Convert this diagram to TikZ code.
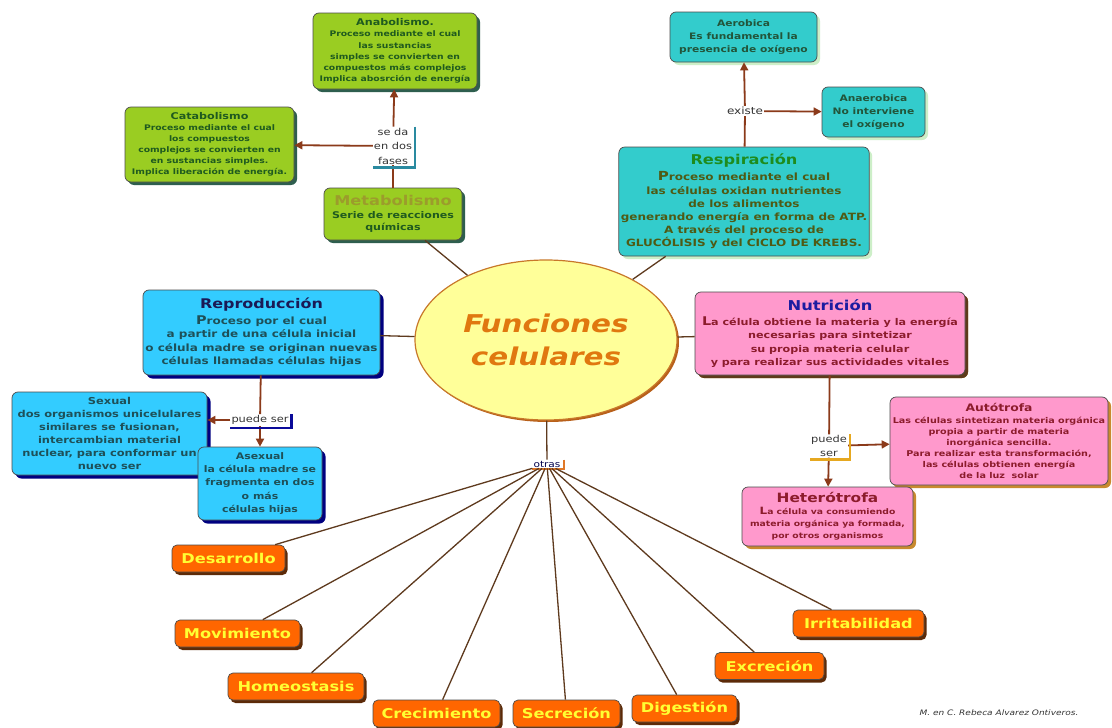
\documentclass[tikz,border=0pt]{standalone}
\usepackage{fontspec}
\setmainfont{DejaVu Sans}[FakeStretch=1.2]
\usepackage{xcolor}
\usetikzlibrary{shapes.geometric, arrows.meta, shadows}

\definecolor{limefill}{HTML}{9ACD22}
\definecolor{limeshadow}{HTML}{2E5E4E}
\definecolor{limetext}{HTML}{1F5A1F}
\definecolor{olivetitle}{HTML}{9C9C2C}
\definecolor{tealfill}{HTML}{33CCCC}
\definecolor{tealglow}{HTML}{CDEFC8}
\definecolor{tealtext}{HTML}{22553A}
\definecolor{resptitle}{HTML}{1E8C1E}
\definecolor{resptext}{HTML}{4F5A14}
\definecolor{skyfill}{HTML}{33CCFF}
\definecolor{skyshadow}{HTML}{000080}
\definecolor{skytitle}{HTML}{1A1A55}
\definecolor{skytext}{HTML}{1E5058}
\definecolor{pinkfill}{HTML}{FF99CC}
\definecolor{pinkshadow}{HTML}{5E3A1A}
\definecolor{goldshadow}{HTML}{C98A2E}
\definecolor{nutrititle}{HTML}{1C1CA0}
\definecolor{maroontext}{HTML}{8C1C2C}
\definecolor{orangefill}{HTML}{FF6600}
\definecolor{orangeshadow}{HTML}{5C2A08}
\definecolor{orangetext}{HTML}{FFFF33}
\definecolor{ellipsefill}{HTML}{FFFF99}
\definecolor{ellipseedge}{HTML}{C8782A}
\definecolor{ellipseshadow}{HTML}{B8601A}
\definecolor{ellipsetext}{HTML}{E0780F}
\definecolor{linkbrown}{HTML}{8B3A1A}
\definecolor{linebrown}{HTML}{5E3A1E}
\definecolor{bracketteal}{HTML}{2A8AA0}
\definecolor{bracketnavy}{HTML}{0A0A99}
\definecolor{bracketgold}{HTML}{E6A820}
\definecolor{bracketorange}{HTML}{E07828}

\begin{document}
\begin{tikzpicture}[x=1pt, y=-1pt,
    % Define styles for the nodes
    base_box/.style={rectangle, rounded corners=6pt, draw=black!70, line width=0.7pt, align=center, inner sep=2pt},
    lime_box/.style={base_box, fill=limefill, text=limetext, drop shadow={shadow xshift=3pt, shadow yshift=-3pt, fill=limeshadow, opacity=1}},
    teal_box/.style={base_box, fill=tealfill, text=tealtext, drop shadow={shadow xshift=3pt, shadow yshift=-3pt, fill=tealglow, opacity=1}},
    sky_box/.style={base_box, fill=skyfill, text=skytext, drop shadow={shadow xshift=3.5pt, shadow yshift=-3.5pt, fill=skyshadow, opacity=1}},
    pink_box/.style={base_box, fill=pinkfill, text=maroontext, drop shadow={shadow xshift=3pt, shadow yshift=-3pt, fill=goldshadow, opacity=1}},
    task_box/.style={base_box, rounded corners=5pt, fill=orangefill, text=orangetext, font=\bfseries\fontsize{13.5}{15}\selectfont, minimum height=27pt, drop shadow={shadow xshift=2.5pt, shadow yshift=-3pt, fill=orangeshadow, opacity=1}},
    core_node/.style={ellipse, draw=ellipseedge, line width=1.2pt, fill=ellipsefill, minimum width=262pt, minimum height=160pt, align=center, text=ellipsetext, font=\bfseries\itshape\fontsize{24.5}{33}\selectfont, drop shadow={shadow xshift=2pt, shadow yshift=-2pt, fill=ellipseshadow, opacity=1}},
    link_label/.style={fill=white, inner sep=1pt, align=center, text=black!80, font=\fontsize{9.5}{12.5}\selectfont},
    % Styles for connectors
    arrow/.style={-{Triangle[width=8pt, length=8pt]}, linkbrown, line width=1.8pt},
    plain/.style={linkbrown, line width=1.8pt},
    spoke/.style={linebrown, line width=1.3pt},
    bracket/.style={line width=2.5pt}
]
    \fill [white, use as bounding box] (0,0) rectangle (1112,728);

    % =========================================================================
    % METABOLISMO BRANCH
    % =========================================================================
    \node (anabolismo) [lime_box, minimum width=164pt, minimum height=76pt, font=\bfseries\fontsize{7.7}{11.2}\selectfont] at (395,51)
        {{\fontsize{9.3}{11}\selectfont Anabolismo.}\\Proceso mediante el cual\\las sustancias\\simples se convierten en\\compuestos más complejos\\Implica abosrción de energía};

    \node (catabolismo) [lime_box, minimum width=169pt, minimum height=75pt, font=\bfseries\fontsize{7.7}{11}\selectfont] at (209.5,144.5)
        {{\fontsize{9.3}{11}\selectfont Catabolismo}\\Proceso mediante el cual\\los compuestos\\complejos se convierten en\\en sustancias simples.\\Implica liberación de energía.};

    \node (metabolismo) [lime_box, minimum width=138pt, minimum height=52pt, font=\bfseries\fontsize{9.2}{11.7}\selectfont] at (393,214)
        {{\fontsize{13.5}{15}\selectfont\color{olivetitle}Metabolismo}\\[1pt]Serie de reacciones\\químicas};

    \node (fases) [link_label, font=\fontsize{9.5}{14.5}\selectfont] at (393,146) {se da\\en dos\\fases};
    \draw [plain] (metabolismo) -- (fases);
    \draw [arrow] (fases) -- (anabolismo);
    \draw [arrow] (fases) -- (catabolismo);
    \draw [bracket, bracketteal] ([xshift=2pt]fases.north east) |- ([yshift=-2pt]fases.south west);

    % =========================================================================
    % RESPIRACION BRANCH
    % =========================================================================
    \node (aerobica) [teal_box, minimum width=147pt, minimum height=50pt, font=\bfseries\fontsize{8.9}{13.3}\selectfont] at (743.5,37)
        {Aerobica\\Es fundamental la\\presencia de oxígeno};

    \node (anaerobica) [teal_box, minimum width=103pt, minimum height=50pt, font=\bfseries\fontsize{8.9}{13.3}\selectfont] at (873.5,112)
        {Anaerobica\\No interviene\\el oxígeno};

    \node (respiracion) [teal_box, text=resptext, minimum width=244pt, minimum height=109pt, font=\bfseries\fontsize{10}{13.2}\selectfont] at (744,201.5)
        {{\fontsize{13.5}{15}\selectfont\color{resptitle}Respiración}\\[3pt]{\fontsize{12.5}{13.2}\selectfont P}roceso mediante el cual\\las células oxidan nutrientes\\de los alimentos\\generando energía en forma de ATP.\\A través del proceso de\\GLUCÓLISIS y del CICLO DE KREBS.};

    \node (existe) [link_label, font=\fontsize{10}{12}\selectfont] at (745,111) {existe};
    \draw [plain] (respiracion) -- (existe);
    \draw [arrow] (existe) -- (aerobica);
    \draw [arrow] (existe) -- (anaerobica);

    % =========================================================================
    % REPRODUCCION BRANCH
    % =========================================================================
    \node (reproduccion) [sky_box, minimum width=237pt, minimum height=85pt, font=\bfseries\fontsize{10}{13.5}\selectfont] at (261.5,332.5)
        {{\fontsize{13.3}{15}\selectfont\color{skytitle}Reproducción}\\[2pt]{\fontsize{12}{13.5}\selectfont P}roceso por el cual\\a partir de una célula inicial\\o célula madre se originan nuevas\\células llamadas células hijas};

    \node (sexual) [sky_box, minimum width=195pt, minimum height=83pt, font=\bfseries\fontsize{9.5}{13}\selectfont] at (109.5,433.5)
        {Sexual\\dos organismos unicelulares\\similares se fusionan,\\intercambian material\\nuclear, para conformar un\\nuevo ser};

    \node (asexual) [sky_box, minimum width=124pt, minimum height=73pt, font=\bfseries\fontsize{9.1}{13.3}\selectfont] at (260,483.5)
        {Asexual\\la célula madre se\\fragmenta en dos\\o más\\células hijas};

    \node (puede_repro) [link_label] at (260,420) {puede ser};
    \draw [plain] (reproduccion) -- (puede_repro);
    \draw [arrow] (puede_repro.west) -- (puede_repro.west -| sexual.east);
    \draw [arrow] (puede_repro) -- (asexual);
    \draw [bracket, bracketnavy] ([xshift=2pt]puede_repro.north east) |- ([yshift=-2pt]puede_repro.south west);

    % =========================================================================
    % NUTRICION BRANCH
    % =========================================================================
    \node (nutricion) [pink_box, drop shadow={shadow xshift=3pt, shadow yshift=-3pt, fill=pinkshadow, opacity=1}, minimum width=270pt, minimum height=83pt, font=\bfseries\fontsize{9.3}{13.3}\selectfont] at (830,333.5)
        {{\fontsize{13.6}{15}\selectfont\color{nutrititle}Nutrición}\\[2pt]{\fontsize{12}{13.3}\selectfont L}a célula obtiene la materia y la energía\\necesarias para sintetizar\\su propia materia celular\\y para realizar sus actividades vitales};

    \node (autotrofa) [pink_box, minimum width=218pt, minimum height=88pt, font=\bfseries\fontsize{8}{11}\selectfont] at (999,441)
        {{\fontsize{10.3}{12}\selectfont Autótrofa}\\[1pt]Las células sintetizan materia orgánica\\propia a partir de materia\\inorgánica sencilla.\\Para realizar esta transformación,\\las células obtienen energía\\de la luz\ \ solar};

    \node (heterotrofa) [pink_box, minimum width=171pt, minimum height=59pt, font=\bfseries\fontsize{7.7}{12}\selectfont] at (827.5,516.5)
        {{\fontsize{12.8}{14}\selectfont Heterótrofa}\\{\fontsize{10}{12}\selectfont L}a célula va consumiendo\\materia orgánica ya formada,\\por otros organismos};

    \node (puede_nutri) [link_label] at (829,446) {puede\\[1pt]ser};
    \draw [plain] (nutricion) -- (puede_nutri);
    \draw [arrow] (puede_nutri) -- (autotrofa);
    \draw [arrow] (puede_nutri) -- (heterotrofa);
    \draw [bracket, bracketgold] ([xshift=2pt]puede_nutri.north east) |- ([yshift=-2pt]puede_nutri.south west);

    % =========================================================================
    % CENTRAL NODE
    % =========================================================================
    \node (funciones) [core_node] at (546,340) {Funciones\\celulares};
    \draw [spoke] (metabolismo) -- (funciones);
    \draw [spoke] (respiracion) -- (funciones);
    \draw [spoke] (reproduccion) -- (funciones);
    \draw [spoke] (nutricion) -- (funciones);

    % =========================================================================
    % OTRAS FUNCIONES
    % =========================================================================
    \node (otras) [link_label, font=\fontsize{8.8}{10}\selectfont, text=black!70!blue] at (547,464) {otras};
    \draw [spoke] (funciones) -- (otras);
    \draw [bracket, bracketorange, line width=2pt] ([xshift=2pt]otras.north east) |- ([yshift=-1pt]otras.south west);

    \node (desarrollo) [task_box, minimum width=113pt] at (228.5,558.5) {Desarrollo};
    \node (movimiento) [task_box, minimum width=125pt] at (237.5,633.5) {Movimiento};
    \node (homeostasis) [task_box, minimum width=136pt] at (296,686.5) {Homeostasis};
    \node (crecimiento) [task_box, minimum width=127pt] at (436.5,713.5) {Crecimiento};
    \node (secrecion) [task_box, minimum width=107pt] at (566.5,713.5) {Secreción};
    \node (digestion) [task_box, minimum width=105pt] at (684.5,708.5) {Digestión};
    \node (excrecion) [task_box, minimum width=109pt] at (769.5,666) {Excreción};
    \node (irritabilidad) [task_box, minimum width=131pt] at (858.5,623.5) {Irritabilidad};

    \draw [spoke] (otras) -- (desarrollo);
    \draw [spoke] (otras) -- (movimiento);
    \draw [spoke] (otras) -- (homeostasis);
    \draw [spoke] (otras) -- (crecimiento);
    \draw [spoke] (otras) -- (secrecion);
    \draw [spoke] (otras) -- (digestion);
    \draw [spoke] (otras) -- (excrecion);
    \draw [spoke] (otras) -- (irritabilidad);

    \node (firma) [font=\itshape\fontsize{7.5}{9}\selectfont, text=black!80] at (999,713) {M. en C. Rebeca Alvarez Ontiveros.};

\end{tikzpicture}
\end{document}
